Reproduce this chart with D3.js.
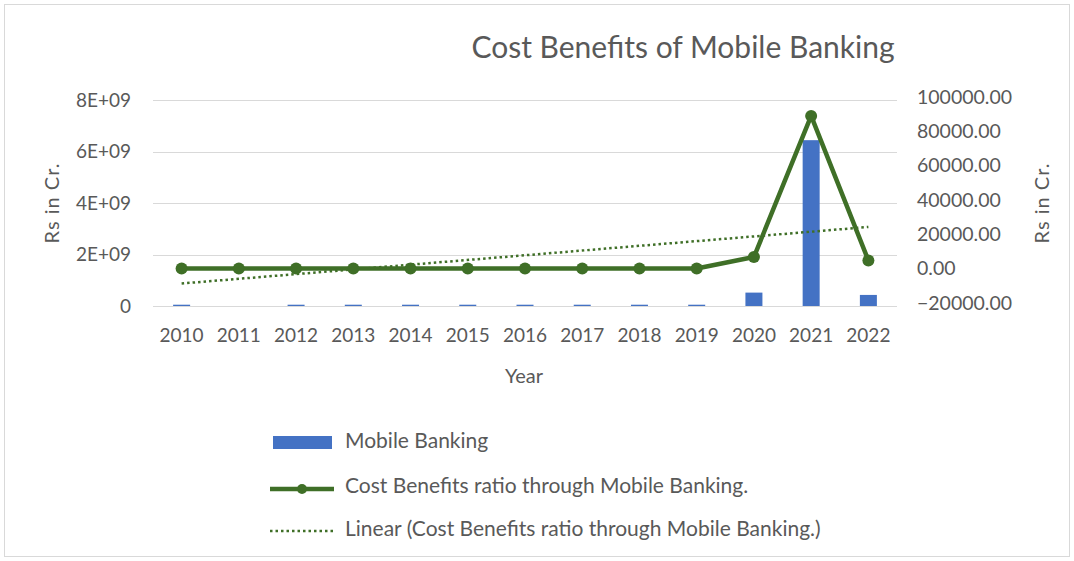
<!DOCTYPE html>
<html lang="en">
<head>
    <meta charset="UTF-8">
    <title>Cost Benefits of Mobile Banking</title>
    <script src="https://d3js.org/d3.v7.min.js"></script>
    <style>
        body { margin: 0; background: #fff; }
        text { font-family: Lato, "Open Sans", sans-serif; fill: #595959; }
        .grid line { stroke: #d9d9d9; stroke-width: 1; }
    </style>
</head>
<body>
    <script>
        // data
        const years = ["2010", "2011", "2012", "2013", "2014", "2015", "2016", "2017", "2018", "2019", "2020", "2021", "2022"];
        const mobileBanking = [0.05e9, 0, 0.05e9, 0.05e9, 0.05e9, 0.05e9, 0.05e9, 0.05e9, 0.05e9, 0.05e9, 0.52e9, 6.44e9, 0.43e9];
        const costRatio = [100, 100, 100, 100, 100, 100, 100, 100, 100, 100, 6800, 89000, 4800];
        const leftTicks = [0, 2e9, 4e9, 6e9, 8e9];
        const leftTickLabels = ["0", "2E+09", "4E+09", "6E+09", "8E+09"];
        const rightTicks = [-20000, 0, 20000, 40000, 60000, 80000, 100000];

        const W = 1074, H = 561;
        const plot = { left: 153, right: 897, top: 100, bottom: 306 };

        const svg = d3.select("body").append("svg")
            .attr("width", W)
            .attr("height", H);

        svg.append("rect")
            .attr("x", 4.5).attr("y", 4.5)
            .attr("width", W - 9).attr("height", H - 9)
            .attr("fill", "#fff")
            .attr("stroke", "#d9d9d9");

        const x = d3.scaleBand().domain(years).range([plot.left, plot.right]);
        const yL = d3.scaleLinear().domain([0, 8e9]).range([plot.bottom, plot.top]);
        const yR = d3.scaleLinear().domain([-20000, 100000]).range([303, 97]);

        // gridlines
        svg.append("g").attr("class", "grid")
            .selectAll("line").data(leftTicks).join("line")
            .attr("x1", plot.left).attr("x2", plot.right)
            .attr("y1", d => Math.round(yL(d)) + 0.5)
            .attr("y2", d => Math.round(yL(d)) + 0.5);

        // left axis labels
        svg.append("g").selectAll("text").data(leftTicks).join("text")
            .attr("x", 131)
            .attr("y", d => yL(d))
            .attr("dy", "0.35em")
            .attr("text-anchor", "end")
            .style("font-size", "19px")
            .text((d, i) => leftTickLabels[i]);

        // right axis labels
        svg.append("g").selectAll("text").data(rightTicks).join("text")
            .attr("x", 917)
            .attr("y", d => yR(d))
            .attr("dy", "0.35em")
            .style("font-size", "19.5px")
            .text(d => d3.format(".2f")(d));

        // x labels
        svg.append("g").selectAll("text").data(years).join("text")
            .attr("x", d => x(d) + x.bandwidth() / 2)
            .attr("y", 335)
            .attr("dy", "0.35em")
            .attr("text-anchor", "middle")
            .style("font-size", "19px")
            .text(d => d);

        // axis titles
        svg.append("text")
            .attr("x", 524).attr("y", 376)
            .attr("dy", "0.35em")
            .attr("text-anchor", "middle")
            .style("font-size", "20px")
            .text("Year");

        svg.append("text")
            .attr("transform", "translate(52,203) rotate(-90)")
            .attr("dy", "0.35em")
            .attr("text-anchor", "middle")
            .style("font-size", "20px")
            .style("letter-spacing", "1px")
            .text("Rs in Cr.");

        svg.append("text")
            .attr("transform", "translate(1042,203) rotate(-90)")
            .attr("dy", "0.35em")
            .attr("text-anchor", "middle")
            .style("font-size", "20px")
            .style("letter-spacing", "1px")
            .text("Rs in Cr.");

        svg.append("text")
            .attr("x", 683).attr("y", 47)
            .attr("dy", "0.35em")
            .attr("text-anchor", "middle")
            .style("font-size", "30px")
            .text("Cost Benefits of Mobile Banking");

        // bars
        const barW = 17;
        svg.append("g").selectAll("rect").data(years).join("rect")
            .attr("x", d => x(d) + x.bandwidth() / 2 - barW / 2)
            .attr("y", (d, i) => yL(mobileBanking[i]))
            .attr("width", barW)
            .attr("height", (d, i) => yL(0) - yL(mobileBanking[i]))
            .attr("fill", "#4472c4");

        // linear trend (least squares on the ratio series)
        const idx = years.map((d, i) => i);
        const mx = d3.mean(idx), my = d3.mean(costRatio);
        const slope = d3.sum(idx, i => (i - mx) * (costRatio[i] - my)) / d3.sum(idx, i => (i - mx) ** 2);
        const icpt = my - slope * mx;
        const cx = d => x(d) + x.bandwidth() / 2;
        const green = "#3f6f27";

        svg.append("line")
            .attr("x1", cx(years[0]))
            .attr("y1", yR(icpt))
            .attr("x2", cx(years[years.length - 1]))
            .attr("y2", yR(icpt + slope * (years.length - 1)))
            .attr("stroke", green)
            .attr("stroke-width", 2.5)
            .attr("stroke-dasharray", "2.5,3");

        // ratio line
        const line = d3.line().x(d => cx(d[0])).y(d => yR(d[1]));
        const pts = years.map((d, i) => [d, costRatio[i]]);
        svg.append("path")
            .attr("d", line(pts))
            .attr("fill", "none")
            .attr("stroke", green)
            .attr("stroke-width", 4.5)
            .attr("stroke-linejoin", "round");

        svg.append("g").selectAll("circle").data(pts).join("circle")
            .attr("cx", d => cx(d[0]))
            .attr("cy", d => yR(d[1]))
            .attr("r", 6)
            .attr("fill", green);

        // legend
        const lg = svg.append("g");
        lg.append("rect")
            .attr("x", 273).attr("y", 436)
            .attr("width", 59).attr("height", 13)
            .attr("fill", "#4472c4");
        lg.append("text")
            .attr("x", 345).attr("y", 441)
            .attr("dy", "0.35em")
            .style("font-size", "21px")
            .text("Mobile Banking");

        lg.append("line")
            .attr("x1", 270).attr("x2", 334)
            .attr("y1", 489).attr("y2", 489)
            .attr("stroke", green).attr("stroke-width", 4.5);
        lg.append("circle")
            .attr("cx", 302).attr("cy", 489).attr("r", 5)
            .attr("fill", green);
        lg.append("text")
            .attr("x", 345).attr("y", 486)
            .attr("dy", "0.35em")
            .style("font-size", "21px")
            .text("Cost Benefits ratio through Mobile Banking.");

        lg.append("line")
            .attr("x1", 270).attr("x2", 334)
            .attr("y1", 531).attr("y2", 531)
            .attr("stroke", green).attr("stroke-width", 2.5)
            .attr("stroke-dasharray", "2.5,3");
        lg.append("text")
            .attr("x", 345).attr("y", 529)
            .attr("dy", "0.35em")
            .style("font-size", "21px")
            .text("Linear (Cost Benefits ratio through Mobile Banking.)");
    </script>
</body>
</html>
